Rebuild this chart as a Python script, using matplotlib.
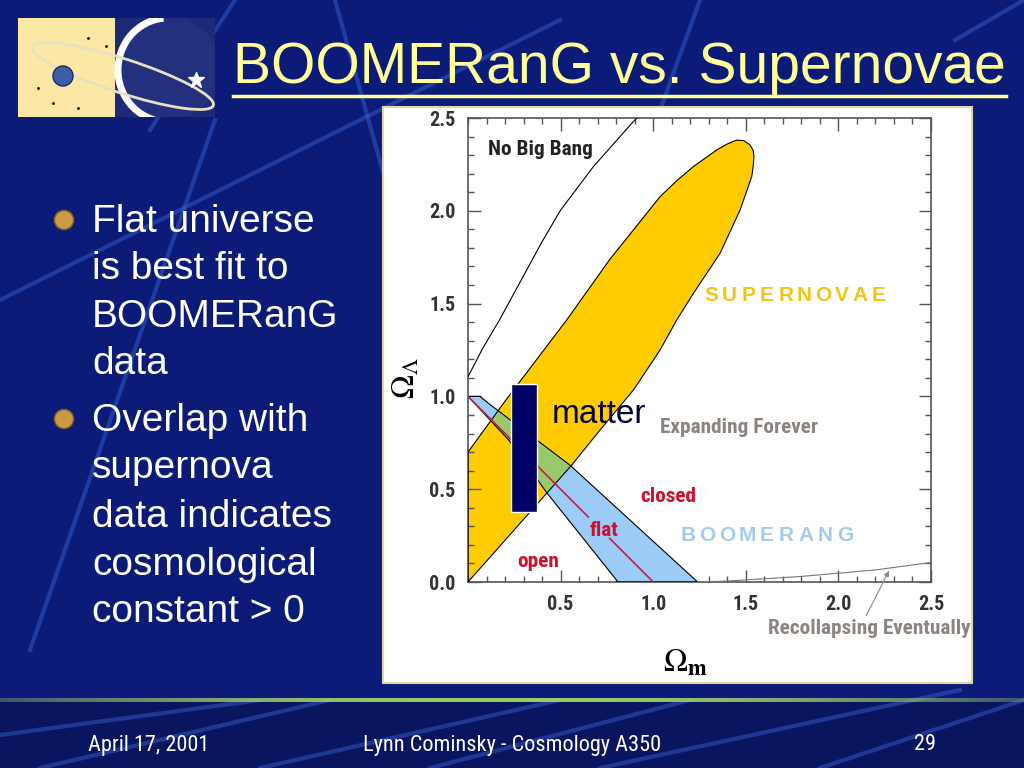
import numpy as np
import matplotlib
matplotlib.use("Agg")
import matplotlib.pyplot as plt
from matplotlib import font_manager
from matplotlib.patches import Polygon, Rectangle, Circle, Ellipse, Arc
from matplotlib.lines import Line2D

# ---------------------------
# Data
# ---------------------------
# supernovae confidence region outline
sn_x = [0.0, 0.0, 0.205, 0.533, 0.767, 1.037, 1.13, 1.217, 1.343, 1.40, 1.451, 1.49, 1.523,
        1.540, 1.544, 1.540, 1.532, 1.469, 1.361, 1.217, 1.127, 1.037, 0.893, 0.713, 0.56]
sn_y = [0.0, 0.70, 0.981, 1.412, 1.74, 2.076, 2.165, 2.238, 2.328, 2.36, 2.381, 2.378, 2.355,
        2.325, 2.292, 2.24, 2.184, 2.004, 1.771, 1.555, 1.412, 1.25, 1.034, 0.819, 0.63]

# boomerang band outline
boom_x = [0.0, 0.065, 0.11, 0.55, 1.24, 0.81, 0.43, 0.22]
boom_y = [1.0, 1.0, 0.963, 0.63, 0.0, 0.0, 0.475, 0.765]

# flat universe line (broken around its label)
flat_x1 = [0.0, 0.65]
flat_y1 = [1.0, 0.35]
flat_x2 = [0.765, 1.0]
flat_y2 = [0.235, 0.0]

# "no big bang" boundary
nbb_x = [0.0, 0.08, 0.169, 0.398, 0.50, 0.677, 0.884, 0.912]
nbb_y = [1.106, 1.26, 1.41, 1.83, 2.004, 2.238, 2.471, 2.5]

# recollapse boundary
rc_x = [1.24, 1.40, 1.80, 2.20, 2.50]
rc_y = [0.0, 0.005, 0.03, 0.065, 0.105]

# matter density box
matter_om = [0.232, 0.371]
matter_ol = [0.379, 1.067]

x_ticks = [0.5, 1.0, 1.5, 2.0, 2.5]
y_ticks = [0.0, 0.5, 1.0, 1.5, 2.0, 2.5]

bullets = [
    ["Flat universe", "is best fit to", "BOOMERanG", "data"],
    ["Overlap with", "supernova", "data indicates", "cosmological", "constant > 0"],
]

# ---------------------------
# Fonts
# ---------------------------
installed = {f.name for f in font_manager.fontManager.ttflist}
narrow_found = [n for n in ["Liberation Sans Narrow", "Roboto Condensed", "DejaVu Sans Condensed",
                            "Open Sans Condensed", "Noto Sans Condensed", "Arial Narrow"]
                if n in installed]
NARROW = narrow_found[:1] + ["DejaVu Sans"]
k = 1.0 if narrow_found else 0.86   # shrink text if no condensed face
SANS = ["Liberation Sans", "DejaVu Sans"]
plt.rcParams["mathtext.fontset"] = "stix"

W, H = 1024, 768


def fx(x):
    return x / W


def fy(y):
    return 1 - y / H


# ---------------------------
# Slide
# ---------------------------
fig = plt.figure(figsize=(10.24, 7.68), dpi=100)
fig.patch.set_facecolor("#0c1a78")

fig.add_artist(Rectangle((0, 0), 1, fy(700), transform=fig.transFigure,
                         fc="#0a1560", ec="none", zorder=-3))

# background streaks
streaks = [
    ((0, 300), (560, 20)), ((30, 650), (215, 120)), ((335, 0), (395, 215)),
    ((235, 0), (150, 130)), ((955, 40), (1024, 0)), ((700, 0), (660, 110)),
    ((40, 768), (330, 700)), ((260, 768), (560, 700)), ((430, 768), (690, 700)),
    ((600, 768), (960, 690)), ((820, 768), (1024, 700)), ((0, 735), (260, 700)),
]
for (x0, y0), (x1, y1) in streaks:
    fig.add_artist(Line2D([fx(x0), fx(x1)], [fy(y0), fy(y1)], transform=fig.transFigure,
                          color="#3f6fe0", lw=3, alpha=0.4, zorder=-2))

# footer rule with a soft gradient
ax_rule = fig.add_axes([0, fy(702), 1, 4 / H])
grad = np.linspace(-1, 1, 256)
rgba = np.zeros((1, 256, 4))
rgba[..., 0] = 0.62
rgba[..., 1] = 0.80
rgba[..., 2] = 0.42
rgba[..., 3] = 0.35 + 0.65 * (1 - np.abs(grad) ** 2)
ax_rule.imshow(rgba, aspect="auto", extent=[0, 1, 0, 1])
ax_rule.axis("off")

# logo
ax_logo = fig.add_axes([fx(18), fy(117), 197 / W, 99 / H])
ax_logo.set_xlim(0, 197)
ax_logo.set_ylim(99, 0)
ax_logo.axis("off")
ax_logo.add_patch(Rectangle((0, 0), 197, 99, fc="#1c2a78", ec="none"))
ax_logo.add_patch(Rectangle((0, 0), 97, 99, fc="#fbe8a4", ec="none"))
ax_logo.add_patch(Circle((150, 50), 52, fc="#22307e", ec="none"))
ax_logo.add_patch(Arc((150, 52), 100, 104, theta1=95, theta2=265, color="white", lw=5))
ax_logo.add_patch(Ellipse((105, 58), 190, 34, angle=18, fill=False, ec="#e8e0c0", lw=2))
ax_logo.add_patch(Circle((45, 58), 10, fc="#3a5fa8", ec="#1a2a60"))
ax_logo.plot([178], [62], marker="*", color="white", ms=12)
ax_logo.plot([35, 70, 88, 20, 60], [85, 20, 28, 70, 90], "k.", ms=2)

# title
title = fig.text(fx(233), fy(68), "BOOMERanG vs. Supernovae", fontsize=41,
                 color="#ffff99", va="center", ha="left", family=SANS)
fig.canvas.draw()
bb = title.get_window_extent(fig.canvas.get_renderer())
fig.add_artist(Line2D([bb.x0 / W, bb.x1 / W], [fy(96), fy(96)], transform=fig.transFigure,
                      color="#ffff99", lw=2.5))

# bullets
baselines = [[232, 279, 327, 374], [431, 478, 527, 575, 622]]
for lines, bls in zip(bullets, baselines):
    fig.add_artist(Ellipse((fx(64), fy(bls[0] - 12)), 19 / W, 19 / H,
                           transform=fig.transFigure, fc="#c99b45", ec="#8a6520", lw=1))
    for txt, b in zip(lines, bls):
        fig.text(fx(92), fy(b), txt, fontsize=28, color="white", va="baseline",
                 ha="left", family=SANS)

# footer text
foot = dict(fontsize=16 * k, color="white", va="center", family=NARROW)
fig.text(fx(88), fy(745), "April 17, 2001", ha="left", **foot)
fig.text(fx(512), fy(745), "Lynn Cominsky - Cosmology A350", ha="center", **foot)
fig.text(fx(925), fy(745), "29", ha="center", **foot)

# white chart panel
fig.add_artist(Rectangle((fx(383), fy(683)), (972 - 383) / W, (683 - 107) / H,
                         transform=fig.transFigure, fc="white", ec="#e2d8a2", lw=1.5,
                         zorder=0.5))

# ---------------------------
# Chart
# ---------------------------
ax = fig.add_axes([fx(468), fy(582), 463 / W, 464 / H])
ax.set_zorder(1)
ax.set_xlim(0, 2.5)
ax.set_ylim(0, 2.5)
ax.set_facecolor("white")

sn_pts = np.column_stack([sn_x, sn_y])
boom_pts = np.column_stack([boom_x, boom_y])

sn_fill = Polygon(sn_pts, closed=True, fc="#ffcc00", ec="none", zorder=1)
ax.add_patch(sn_fill)
ax.add_patch(Polygon(boom_pts, closed=True, fc="#9ccbf7", ec="none", zorder=2))
overlap = Polygon(boom_pts, closed=True, fc="#9cc86c", ec="none", zorder=3)
ax.add_patch(overlap)
overlap.set_clip_path(sn_fill)
ax.add_patch(Polygon(sn_pts, closed=True, fill=False, ec="black", lw=0.8, zorder=4,
                     joinstyle="round"))
ax.add_patch(Polygon(boom_pts, closed=True, fill=False, ec="black", lw=0.8, zorder=4))

ax.plot(flat_x1, flat_y1, color="#c0204a", lw=1.2, zorder=5)
ax.plot(flat_x2, flat_y2, color="#c0204a", lw=1.2, zorder=5)
ax.plot(nbb_x, nbb_y, color="black", lw=0.8, zorder=5)
ax.plot(rc_x, rc_y, color="#777777", lw=0.8, zorder=5)

ax.add_patch(Rectangle((matter_om[0], matter_ol[0]), matter_om[1] - matter_om[0],
                       matter_ol[1] - matter_ol[0], fc="#000066", ec="white", lw=1,
                       zorder=6))


def spaced(word, x0, x1, y, **kw):
    for ch, xx in zip(word, np.linspace(x0, x1, len(word))):
        ax.text(xx, y, ch, ha="center", va="center", **kw)


lab = dict(fontsize=15.3 * k, fontweight="bold", family=NARROW, va="center", ha="left",
           zorder=7)
ax.text(0.11, 2.33, "No Big Bang", color="#222222", **lab)
ax.text(1.037, 0.835, "Expanding Forever", color="#8c8480", **lab)
ax.text(0.929, 0.458, "closed", color="#d0102a", **lab)
ax.text(0.659, 0.28, "flat", color="#d0102a", **lab)
ax.text(0.265, 0.108, "open", color="#d0102a", **lab)
ax.text(1.62, -0.248, "Recollapsing Eventually", color="#8c8480", clip_on=False, **lab)
spaced("SUPERNOVAE", 1.312, 2.219, 1.546, color="#f2c415", fontsize=15,
       fontweight="bold", family=SANS, zorder=7)
spaced("BOOMERANG", 1.188, 2.036, 0.253, color="#a4cbef", fontsize=15,
       fontweight="bold", family=SANS, zorder=7)
ax.text(0.452, 0.858, "matter", fontsize=24, color="#000033", va="baseline", ha="left",
        family=SANS, zorder=7)

ax.annotate("", xy=(2.28, 0.074), xytext=(2.144, -0.194), annotation_clip=False,
            arrowprops=dict(arrowstyle="-|>", color="#888888", lw=0.8, mutation_scale=8))

# axes styling
ax.set_xticks(x_ticks)
ax.set_yticks(y_ticks)
ax.set_xticklabels([f"{t:.1f}" for t in x_ticks])
ax.set_yticklabels([f"{t:.1f}" for t in y_ticks])
ax.xaxis.set_minor_locator(matplotlib.ticker.MultipleLocator(0.1))
ax.yaxis.set_minor_locator(matplotlib.ticker.MultipleLocator(0.1))
ax.tick_params(which="both", direction="in", top=True, right=True, color="#555555",
               width=1)
ax.tick_params(which="major", length=9, pad=9, labelsize=14.5 * k, labelcolor="#333333")
ax.tick_params(which="minor", length=4.5)
for lbl in ax.get_xticklabels() + ax.get_yticklabels():
    lbl.set_fontweight("bold")
    lbl.set_family(NARROW)
for sp in ax.spines.values():
    sp.set_color("#555555")
    sp.set_linewidth(1.2)

ax.set_ylabel(r"$\Omega_\Lambda$", fontsize=23, color="black")
ax.yaxis.set_label_coords(-0.10, 0.44)
ax.set_xlabel(r"$\Omega_\mathbf{m}$", fontsize=23, color="black")
ax.xaxis.set_label_coords(0.469, -0.142)

fig.savefig("out.png", dpi=100, facecolor=fig.get_facecolor())
